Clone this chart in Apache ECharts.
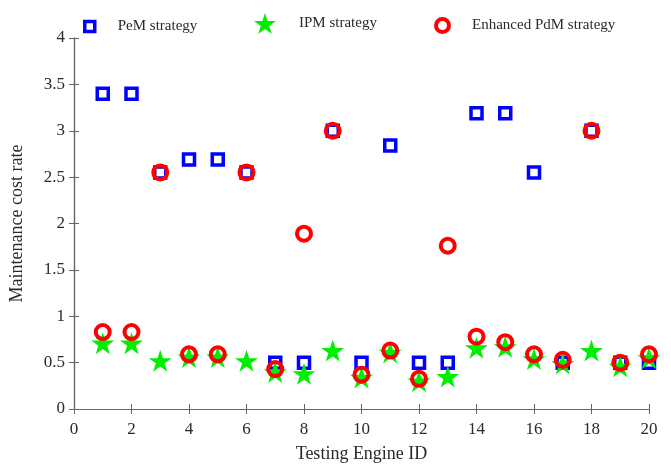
<!DOCTYPE html>
<html>
<head>
<meta charset="utf-8">
<script src="https://cdn.jsdelivr.net/npm/echarts@6/dist/echarts.min.js"></script>
<style>
  html, body { margin: 0; padding: 0; background: #fff; }
  #chart { width: 671px; height: 468px; }
</style>
</head>
<body>
<div id="chart"></div>
<script>
// Maintenance cost rate per testing engine, three strategies
const engineIds = [1, 2, 3, 4, 5, 6, 7, 8, 9, 10, 11, 12, 13, 14, 15, 16, 17, 18, 19, 20];
const pemCost = [3.40, 3.40, 2.55, 2.69, 2.69, 2.55, 0.50, 0.50, 3.00, 0.50,
                 2.84, 0.50, 0.50, 3.19, 3.19, 2.55, 0.50, 3.00, 0.50, 0.50];
const ipmCost = [0.71, 0.71, 0.52, 0.56, 0.56, 0.52, 0.40, 0.38, 0.63, 0.34,
                 0.61, 0.30, 0.35, 0.66, 0.67, 0.54, 0.49, 0.63, 0.46, 0.55];
const pdmCost = [0.83, 0.83, 2.55, 0.59, 0.59, 2.55, 0.43, 1.89, 3.00, 0.37,
                 0.63, 0.325, 1.76, 0.78, 0.72, 0.59, 0.53, 3.00, 0.50, 0.59];
const seriesNames = ['PeM strategy', 'IPM strategy', 'Enhanced PdM strategy'];

const pairs = (ys) => engineIds.map((x, i) => [x, ys[i]]);

const font = 'Liberation Serif';
const axisColor = '#666';
const textColor = '#2a2a2a';

const chart = echarts.init(document.getElementById('chart'));

const legendBase = {
  top: 11,
  itemWidth: 16,
  itemHeight: 16,
  textStyle: { fontFamily: font, fontSize: 15, color: textColor, padding: [0, 0, 0, 18] }
};

chart.setOption({
  animation: false,
  backgroundColor: '#fff',
  grid: { left: 72, right: 22, top: 38, bottom: 59 },
  legend: [
    Object.assign({}, legendBase, {
      left: 78, top: 14, itemWidth: 10, itemHeight: 10, data: [seriesNames[0]],
      itemStyle: { color: '#fff', borderColor: '#0000ff', borderWidth: 3.5 }
    }),
    Object.assign({}, legendBase, {
      left: 249, top: 8, itemWidth: 22, itemHeight: 22, data: [seriesNames[1]]
    }),
    Object.assign({}, legendBase, {
      left: 429, top: 12, itemWidth: 13, itemHeight: 13, data: [seriesNames[2]],
      itemStyle: { color: '#fff', borderColor: '#ff0000', borderWidth: 4 }
    })
  ],
  xAxis: [
    {
      type: 'value', min: 0, max: 20, interval: 2, position: 'bottom',
      name: 'Testing Engine ID', nameLocation: 'middle', nameGap: 36,
      nameTextStyle: { fontFamily: font, fontSize: 18, color: textColor },
      axisLine: { show: true, lineStyle: { color: axisColor, width: 1.2 } },
      axisTick: { show: true, inside: true, length: 5, lineStyle: { color: axisColor } },
      axisLabel: { fontFamily: font, fontSize: 17, color: textColor, margin: 12 },
      splitLine: { show: false }
    },
    {
      type: 'value', min: 0, max: 20, interval: 2, position: 'top',
      axisLine: { show: true, lineStyle: { color: axisColor, width: 1.2 } },
      axisTick: { show: true, inside: true, length: 5, lineStyle: { color: axisColor } },
      axisLabel: { show: false },
      splitLine: { show: false }
    }
  ],
  yAxis: [
    {
      type: 'value', min: 0, max: 4, interval: 0.5, position: 'left',
      name: 'Maintenance cost rate', nameLocation: 'middle', nameGap: 48,
      nameTextStyle: { fontFamily: font, fontSize: 18, color: textColor },
      axisLine: { show: true, lineStyle: { color: axisColor, width: 1.2 } },
      axisTick: { show: true, inside: true, length: 5, lineStyle: { color: axisColor } },
      axisLabel: { fontFamily: font, fontSize: 17, color: textColor, margin: 9 },
      splitLine: { show: false }
    },
    {
      type: 'value', min: 0, max: 4, interval: 0.5, position: 'right',
      axisLine: { show: true, lineStyle: { color: axisColor, width: 1.2 } },
      axisTick: { show: true, inside: true, length: 5, lineStyle: { color: axisColor } },
      axisLabel: { show: false },
      splitLine: { show: false }
    }
  ],
  series: [
    {
      name: seriesNames[0], type: 'scatter', data: pairs(pemCost),
      symbol: 'rect', symbolSize: 11,
      itemStyle: { color: '#fff', borderColor: '#0000ff', borderWidth: 3.5, opacity: 1 },
      z: 2
    },
    {
      name: seriesNames[1], type: 'scatter', data: pairs(ipmCost),
      symbol: 'path://M50,0 L61.8,36.2 L100,36.2 L69.1,58.8 L80.9,95.1 L50,72.7 L19.1,95.1 L30.9,58.8 L0,36.2 L38.2,36.2 Z',
      symbolSize: [23, 22],
      itemStyle: { color: '#00ee00', borderWidth: 0, opacity: 1 },
      z: 3
    },
    {
      name: seriesNames[2], type: 'scatter', data: pairs(pdmCost),
      symbol: 'circle', symbolSize: 14,
      itemStyle: { color: 'rgba(0,0,0,0)', borderColor: '#ff0000', borderWidth: 4, opacity: 1 },
      z: 4
    }
  ]
});
</script>
</body>
</html>
